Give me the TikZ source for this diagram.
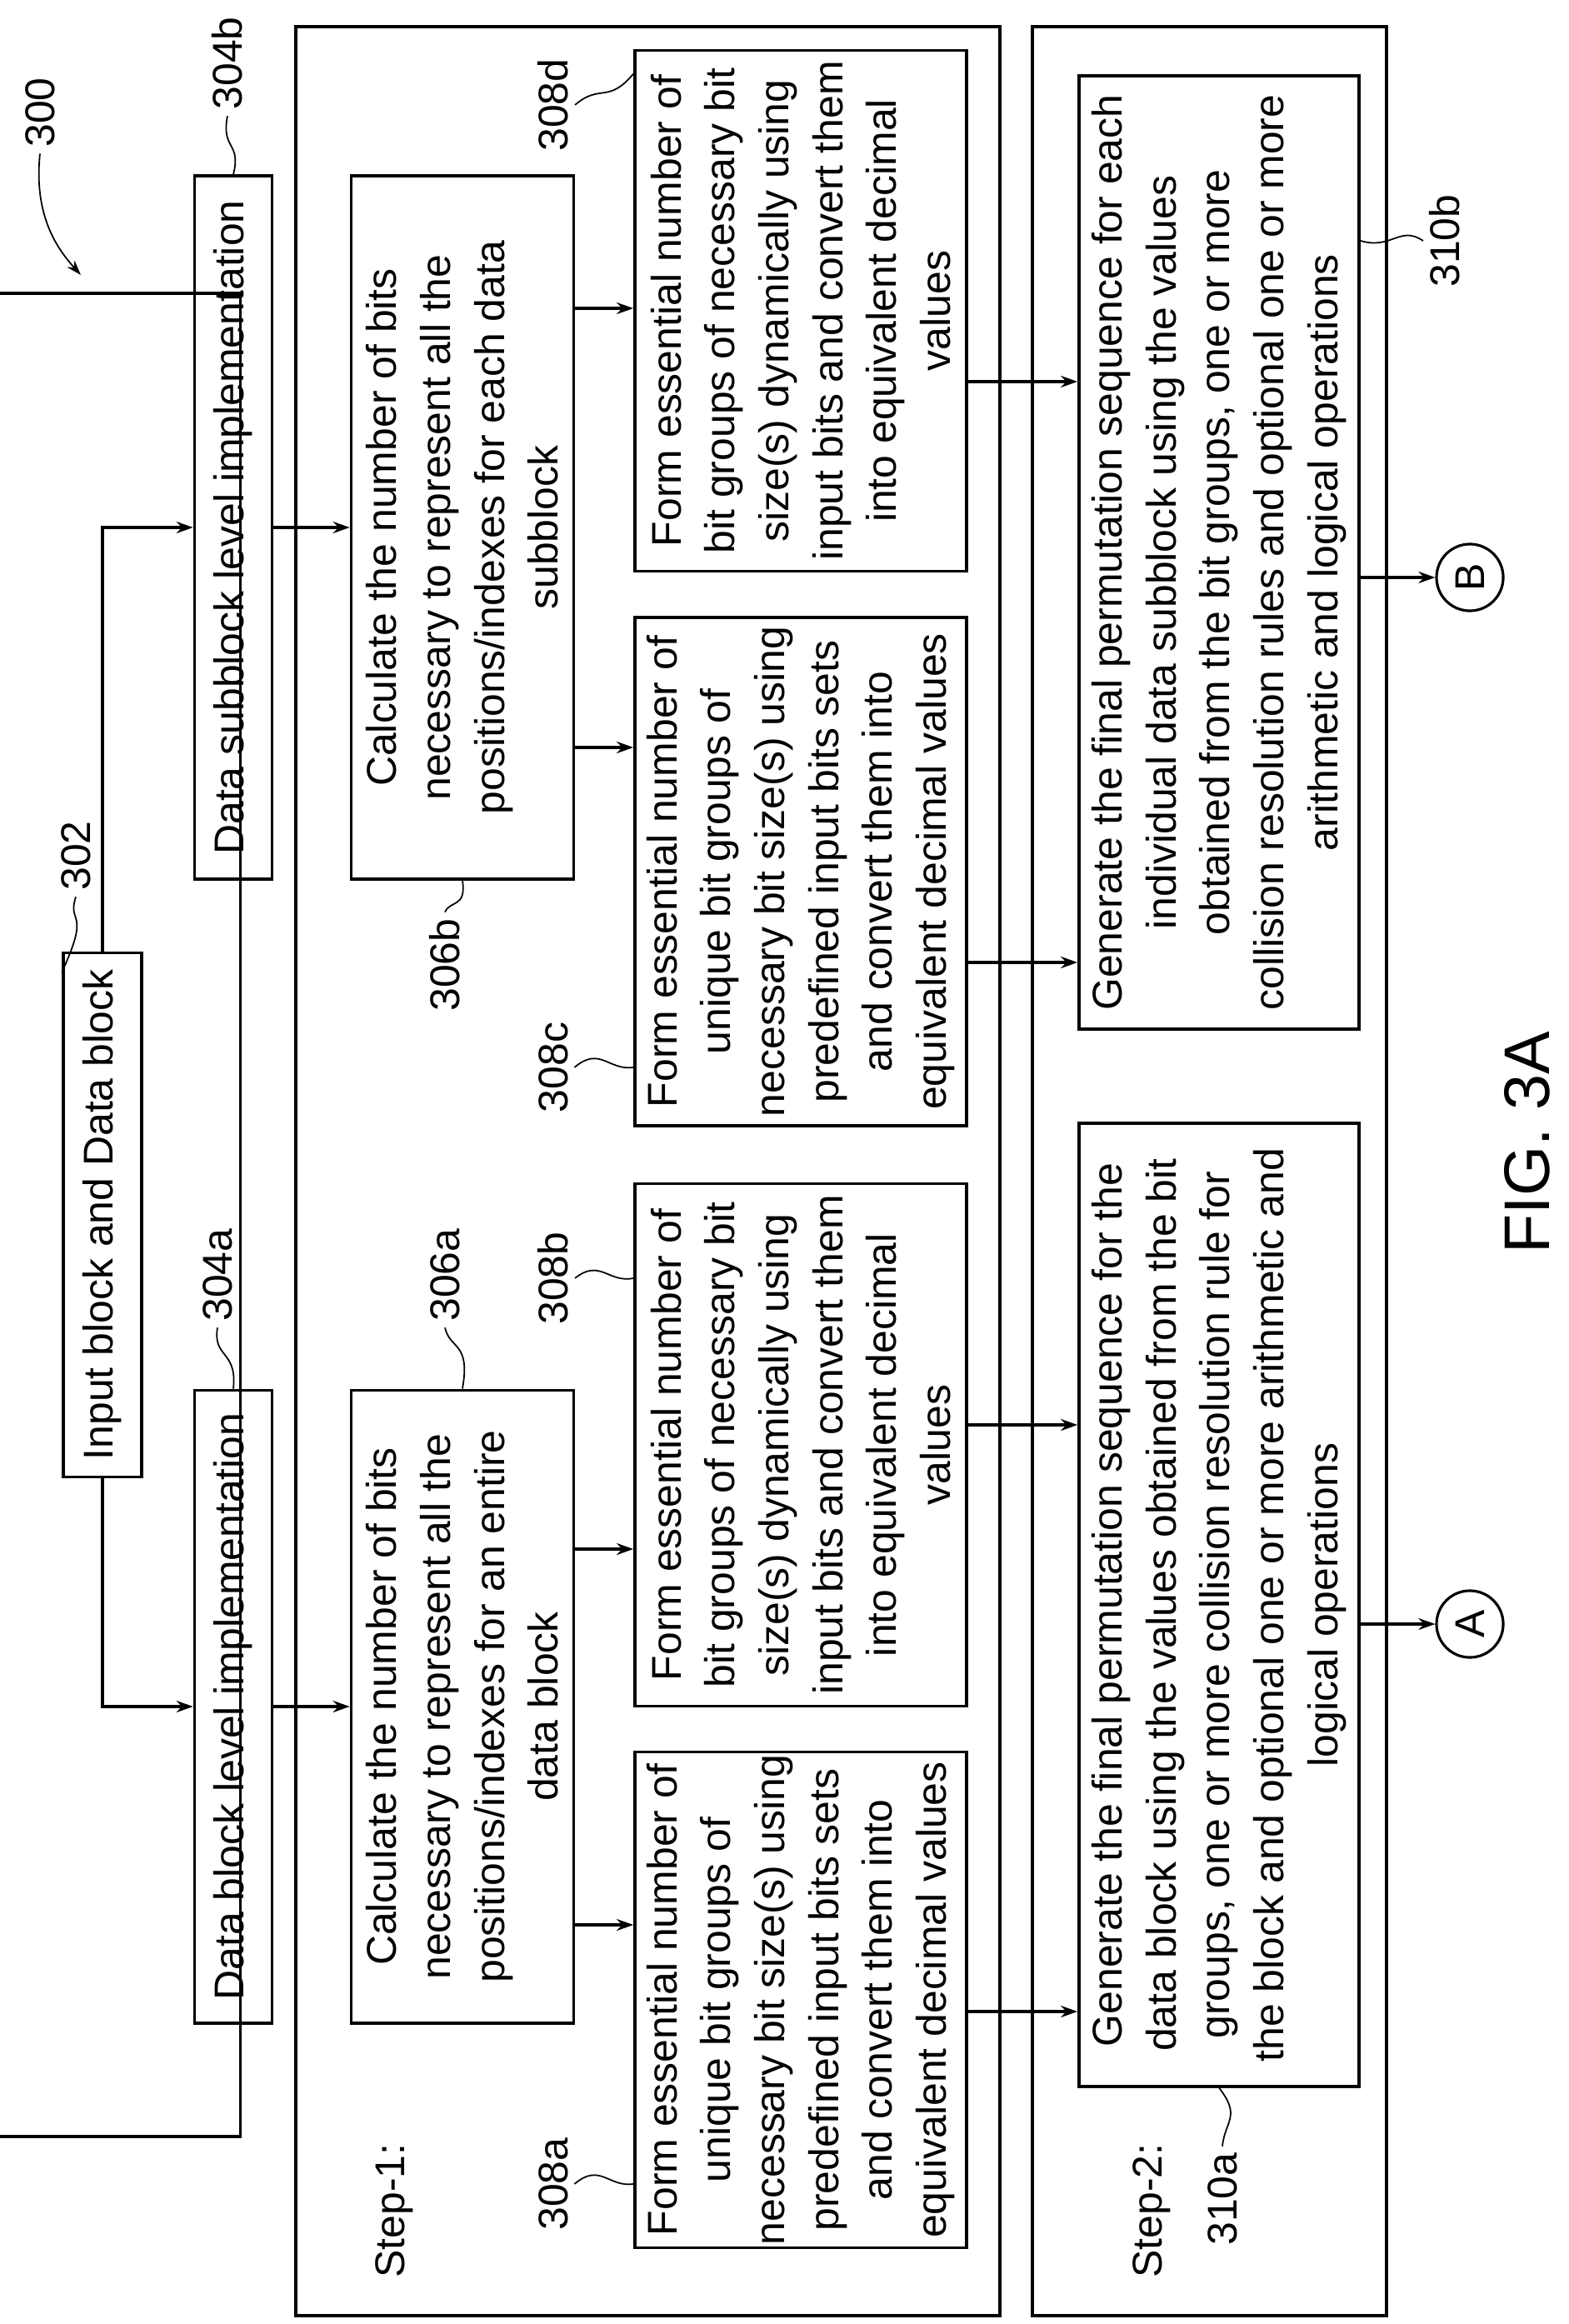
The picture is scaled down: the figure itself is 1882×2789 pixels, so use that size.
\documentclass[tikz,border=0pt]{standalone}
\usepackage{fontspec}
\setmainfont{Liberation Sans}
\usetikzlibrary{arrows.meta}

\tikzset{
  box/.style={draw, line width=1pt, rotate=90, align=center, inner sep=0pt,
    font=\fontsize{14.2pt}{18.4pt}\selectfont},
  lbl/.style={rotate=90, inner sep=2pt, font=\fontsize{14.2pt}{17pt}\selectfont},
  arr/.style={line width=0.9pt, -{Stealth[length=0.2cm, width=0.14cm]}},
  lead/.style={line width=0.5pt},
}

\begin{document}
\begin{tikzpicture}[x=0.01cm, y=-0.01cm]
  \useasboundingbox (0,0) rectangle (1882,2789);

  % Outer step frames
  \draw[line width=1pt] (355,32) rectangle (1200,2779);
  \draw[line width=1pt] (1239,32) rectangle (1664,2779);
  \node[lbl] (step1) at (473,2653) {Step-1:};
  \node[lbl] (step2) at (1382,2653) {Step-2:};

  % Top row
  \node[box, minimum width=629\pgflinewidth, minimum height=94\pgflinewidth] (input) at (123,1458) {};
  \node[box, minimum width=6.29cm, minimum height=0.94cm] (input) at (123,1458) {Input block and Data block};
  \node[box, minimum width=8.43cm, minimum height=0.93cm] (sub) at (280,633) {Data subblock level implementation};
  \node[box, minimum width=7.59cm, minimum height=0.93cm] (blk) at (280,2048) {Data block level implementation};

  % Step-1 boxes
  \node[box, minimum width=8.43cm, minimum height=2.67cm] (calcb) at (555,633)
    {Calculate the number of bits\\necessary to represent all the\\positions/indexes for each data\\subblock};
  \node[box, minimum width=7.59cm, minimum height=2.67cm] (calca) at (555,2048)
    {Calculate the number of bits\\necessary to represent all the\\positions/indexes for an entire\\data block};
  \node[box, minimum width=6.25cm, minimum height=3.98cm] (formd) at (961,373)
    {Form essential number of\\bit groups of necessary bit\\size(s) dynamically using\\input bits and convert them\\into equivalent decimal\\values};
  \node[box, minimum width=6.10cm, minimum height=3.98cm] (formc) at (961,1046)
    {Form essential number of\\unique bit groups of\\necessary bit size(s) using\\predefined input bits sets\\and convert them into\\equivalent decimal values};
  \node[box, minimum width=6.27cm, minimum height=3.98cm] (formb) at (961,1734)
    {Form essential number of\\bit groups of necessary bit\\size(s) dynamically using\\input bits and convert them\\into equivalent decimal\\values};
  \node[box, minimum width=5.95cm, minimum height=3.98cm] (forma) at (961,2400)
    {Form essential number of\\unique bit groups of\\necessary bit size(s) using\\predefined input bits sets\\and convert them into\\equivalent decimal values};

  % Step-2 boxes
  \node[box, minimum width=11.43cm, minimum height=3.36cm] (genb) at (1463,663)
    {Generate the final permutation sequence for each\\individual data subblock using the values\\obtained from the bit groups, one or more\\collision resolution rules and optional one or more\\arithmetic and logical operations};
  \node[box, minimum width=11.55cm, minimum height=3.36cm] (gena) at (1463,1926)
    {Generate the final permutation sequence for the\\data block using the values obtained from the bit\\groups, one or more collision resolution rule for\\the block and optional one or more arithmetic and\\logical operations};

  % Connectors
  \node[draw, circle, line width=0.9pt, minimum size=0.8cm, inner sep=0pt, lbl] (B) at (1764,693) {B};
  \node[draw, circle, line width=0.9pt, minimum size=0.8cm, inner sep=0pt, lbl] (A) at (1764,1949) {A};

  % Row levels
  \coordinate (r1) at (0,370);
  \coordinate (r2) at (0,897);
  \coordinate (r3) at (0,1859);
  \coordinate (r4) at (0,2310);
  \coordinate (s1) at (0,458);
  \coordinate (s2) at (0,1155);
  \coordinate (s3) at (0,1710);
  \coordinate (s4) at (0,2414);

  % Arrows
  \draw[arr] (input.east) |- (sub.north);
  \draw[arr] (input.west) |- (blk.north);
  \draw[arr] (sub.south) -- (calcb.north);
  \draw[arr] (blk.south) -- (calca.north);
  \draw[arr] (calcb.south |- r1) -- (formd.north |- r1);
  \draw[arr] (calcb.south |- r2) -- (formc.north |- r2);
  \draw[arr] (calca.south |- r3) -- (formb.north |- r3);
  \draw[arr] (calca.south |- r4) -- (forma.north |- r4);
  \draw[arr] (formd.south |- s1) -- (genb.north |- s1);
  \draw[arr] (formc.south |- s2) -- (genb.north |- s2);
  \draw[arr] (formb.south |- s3) -- (gena.north |- s3);
  \draw[arr] (forma.south |- s4) -- (gena.north |- s4);
  \draw[arr] (genb.south |- B) -- (B);
  \draw[arr] (gena.south |- A) -- (A);

  % Reference labels
  \node[lbl] (l300) at (48,135) {300};
  \node[lbl] (l302) at (91,1027) {302};
  \node[lbl] (l304b) at (273,76) {304b};
  \node[lbl] (l304a) at (261,1530) {304a};
  \node[lbl] (l306b) at (534,1158) {306b};
  \node[lbl] (l306a) at (534,1530) {306a};
  \node[lbl] (l308d) at (664,126) {308d};
  \node[lbl] (l308c) at (664,1281) {308c};
  \node[lbl] (l308b) at (664,1534) {308b};
  \node[lbl] (l308a) at (664,2621) {308a};
  \node[lbl] (l310b) at (1734,289) {310b};
  \node[lbl] (l310a) at (1467,2639) {310a};
  \node[lbl, font=\fontsize{22pt}{26pt}\selectfont] (fig) at (1833,1371) {FIG. 3A};

  % Leaders
  \coordinate (t300) at (97,330);
  \draw[lead, -{Stealth[length=0.18cm, width=0.12cm]}] (l300.west) .. controls (40,260) and (70,300) .. (t300);
  \draw[lead] (l302.west) .. controls (80,1110) and (110,1090) .. ([yshift=-0.25cm]input.north east);
  \draw[lead] (l304b.west) .. controls (265,180) and (290,170) .. (sub.east);
  \draw[lead] (l304a.west) .. controls (255,1630) and (285,1620) .. (blk.east);
  \draw[lead] (l306b.east) .. controls (540,1080) and (560,1090) .. (calcb.west);
  \draw[lead] (l306a.west) .. controls (540,1620) and (565,1610) .. (calca.east);
  \draw[lead] (l308d.south) .. controls (720,100) and (730,125) .. ([yshift=-0.3cm]formd.north east);
  \draw[lead] (l308c.south) .. controls (720,1255) and (730,1285) .. (formc.north |- l308c);
  \draw[lead] (l308b.south) .. controls (720,1510) and (730,1540) .. (formb.north |- l308b);
  \draw[lead] (l308a.south) .. controls (720,2595) and (730,2625) .. (forma.north |- l308a);
  \draw[lead] (genb.south |- l310b) .. controls (1670,300) and (1680,270) .. (l310b.north);
  \draw[lead] (l310a.east) .. controls (1470,2545) and (1490,2540) .. (gena.west);
\end{tikzpicture}
\end{document}
